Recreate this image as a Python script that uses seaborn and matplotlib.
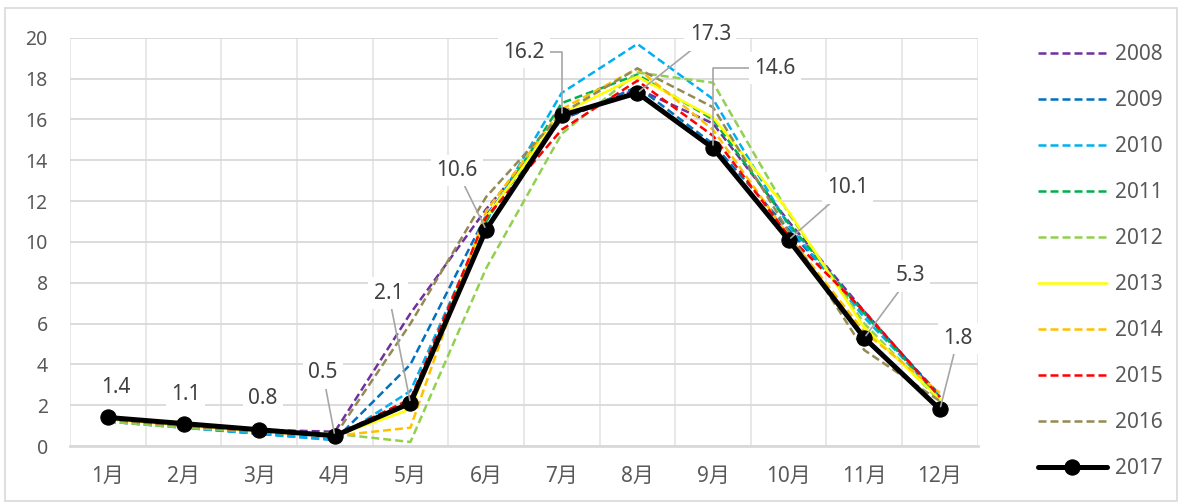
import numpy as np
import pandas as pd
import matplotlib
matplotlib.use("Agg")
import matplotlib.pyplot as plt
from matplotlib.patches import Rectangle
import seaborn as sns

# ---- data ----
months = ["1月", "2月", "3月", "4月", "5月", "6月", "7月", "8月", "9月", "10月", "11月", "12月"]
years = ["2008", "2009", "2010", "2011", "2012", "2013", "2014", "2015", "2016", "2017"]
yticks = [0, 2, 4, 6, 8, 10, 12, 14, 16, 18, 20]

v2008 = [1.2, 1.0, 0.8, 0.7, 6.5, 11.6, 16.0, 17.5, 15.8, 11.0, 6.6, 2.4]
v2009 = [1.2, 0.9, 0.6, 0.3, 4.0, 11.3, 16.0, 17.6, 14.8, 10.6, 6.5, 2.5]
v2010 = [1.2, 0.9, 0.6, 0.3, 2.7, 11.0, 17.3, 19.7, 17.0, 10.8, 6.3, 2.4]
v2011 = [1.3, 1.0, 0.7, 0.5, 2.2, 11.0, 16.8, 18.2, 16.0, 10.9, 6.5, 2.3]
v2012 = [1.2, 0.9, 0.7, 0.6, 0.2, 8.7, 15.3, 18.3, 17.8, 11.4, 6.0, 2.2]
v2013 = [1.3, 1.0, 0.7, 0.5, 1.8, 11.2, 16.3, 18.1, 16.1, 11.5, 5.8, 2.3]
v2014 = [1.3, 1.0, 0.7, 0.5, 0.9, 11.5, 16.5, 18.5, 15.5, 10.3, 5.6, 2.6]
v2015 = [1.3, 1.0, 0.7, 0.5, 2.3, 11.2, 15.5, 17.9, 15.2, 10.3, 6.6, 2.4]
v2016 = [1.3, 1.0, 0.7, 0.5, 6.0, 12.2, 16.3, 18.5, 16.6, 10.5, 4.7, 2.2]
v2017 = [1.4, 1.1, 0.8, 0.5, 2.1, 10.6, 16.2, 17.3, 14.6, 10.1, 5.3, 1.8]

series = [v2008, v2009, v2010, v2011, v2012, v2013, v2014, v2015, v2016, v2017]
colors = ["#7030A0", "#0070C0", "#00B0F0", "#00B050", "#92D050",
          "#FFFF00", "#FFC000", "#FF0000", "#948A54", "#000000"]

# label offsets (pixels) for the 2017 data labels and the leader line style (None = no leader)
label_offsets = [(8, 30), (2, 29), (4, 31), (-12, 63), (-22, 110), (-29, 59),
                 (-38, 63), (73, 58), (62, 80), (59, 52), (46, 62), (18, 71)]
label_leader = [None, None, None, "arc3", "arc3", "arc3",
                "angle,angleA=0,angleB=90,rad=0", "arc3",
                "angle,angleA=0,angleB=90,rad=0", "arc3", "arc3", "arc3"]

df = pd.DataFrame({"month": np.tile(np.arange(len(months)), len(years)),
                   "year": np.repeat(years, len(months)),
                   "value": np.concatenate(series)})

# ---- style ----
sns.set_style("white")
plt.rcParams["font.family"] = ["Noto Sans", "Noto Sans CJK SC", "DejaVu Sans"]

fig = plt.figure(figsize=(11.88, 5.04), dpi=100)
ax = fig.add_axes([0.059, 0.115, 0.764, 0.810])

dash = (0, (3.2, 1.6))
for i, yr in enumerate(years):
    sub = df[df["year"] == yr]
    if yr == "2017":
        sns.lineplot(data=sub, x="month", y="value", ax=ax, color=colors[i],
                     linewidth=3.6, marker="o", markersize=11, markeredgecolor="black",
                     label=yr, zorder=10)
    elif yr == "2013":
        sns.lineplot(data=sub, x="month", y="value", ax=ax, color=colors[i],
                     linewidth=1.8, label=yr, zorder=3)
    else:
        sns.lineplot(data=sub, x="month", y="value", ax=ax, color=colors[i],
                     linewidth=1.8, linestyle=dash, label=yr, zorder=3)

# data labels for 2017
for i, (v, off, lead) in enumerate(zip(v2017, label_offsets, label_leader)):
    ap = None
    if lead:
        ap = dict(arrowstyle="-", color="#a6a6a6", lw=1.2, shrinkA=0, shrinkB=2,
                  connectionstyle=lead)
    ax.annotate(f"{v}", xy=(i, v), xytext=off, textcoords="offset pixels",
                ha="center", va="center", fontsize=15, color="#404040",
                bbox=dict(boxstyle="square,pad=0.25", fc="white", ec="none"),
                arrowprops=ap, zorder=12)

# axes, grid
ax.set_xlim(-0.5, 11.5)
ax.set_ylim(0, 20)
ax.set_xticks(np.arange(len(months)))
ax.set_xticklabels(months, fontsize=15, color="#595959")
ax.set_xticks(np.arange(-0.5, 12, 1), minor=True)
ax.set_yticks(yticks)
ax.set_yticklabels([str(t) for t in yticks], fontsize=14, color="#595959")
ax.tick_params(axis="both", which="both", length=0)
ax.tick_params(axis="x", pad=14)
ax.tick_params(axis="y", pad=16)
ax.grid(True, axis="y", which="major", color="#d9d9d9", lw=1.3)
ax.grid(True, axis="x", which="minor", color="#e6e6e6", lw=1.3)
ax.grid(False, axis="x", which="major")
ax.set_axisbelow(True)
ax.set_xlabel("")
ax.set_ylabel("")
for s in ["left", "top", "right"]:
    ax.spines[s].set_visible(False)
ax.spines["bottom"].set_color("#d9d9d9")
ax.spines["bottom"].set_linewidth(2)

# legend on the right
handles, labels = ax.get_legend_handles_labels()
ax.legend(handles, labels, loc="upper left", bbox_to_anchor=(0.858, 0.950),
          bbox_transform=fig.transFigure, frameon=False, fontsize=15,
          handlelength=3.3, handletextpad=0.4, labelspacing=1.2, labelcolor="#595959")

# outer chart border
fig.patches.append(Rectangle((0.004, 0.006), 0.987, 0.978, transform=fig.transFigure,
                             fill=False, ec="#d9d9d9", lw=1.2))

fig.savefig("out.png", dpi=100, facecolor="white")
